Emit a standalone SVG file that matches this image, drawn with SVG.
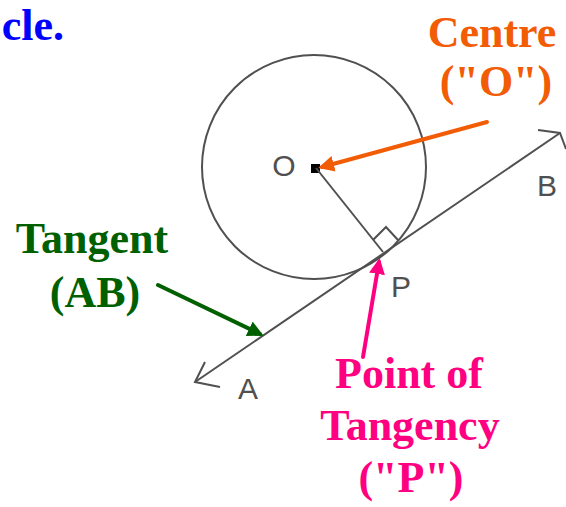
<svg xmlns="http://www.w3.org/2000/svg" width="566" height="507" viewBox="0 0 566 507">
<style>
.lbl{font-family:"Liberation Serif","Times New Roman",serif;font-weight:bold;font-size:44px;text-anchor:middle}
.geo{fill:none;stroke:#505050;stroke-width:2}
.pt{font-family:"Liberation Sans",Arial,sans-serif;font-size:30px;fill:#505050;text-anchor:middle}
</style>
<defs>
<marker id="ao" markerWidth="4" markerHeight="4" refX="3" refY="2" orient="auto" markerUnits="strokeWidth"><path d="M0,0 L4,2 L0,4 Z" fill="#f25c05"/></marker>
<marker id="ag" markerWidth="4" markerHeight="4" refX="3" refY="2" orient="auto" markerUnits="strokeWidth"><path d="M0,0 L4,2 L0,4 Z" fill="#006000"/></marker>
<marker id="ap" markerWidth="4" markerHeight="4" refX="3" refY="2" orient="auto" markerUnits="strokeWidth"><path d="M0,0 L4,2 L0,4 Z" fill="#ff0080"/></marker>
</defs>
<rect width="566" height="507" fill="#fff"/>
<text x="64" y="40" class="lbl" style="text-anchor:end" fill="#0000ff">cle.</text>
<g id="circle">
<circle cx="314" cy="167" r="112" class="geo"/>
<rect x="311" y="164" width="9" height="9" fill="#000"/>
<text x="284" y="176" class="pt">O</text>
</g>
<g id="tangent">
<line x1="195" y1="382" x2="560" y2="133" class="geo"/>
<polyline points="538,130 560,133 566,149" class="geo"/>
<polyline points="205,362 195,382 220,387" class="geo"/>
<text x="547" y="196" class="pt">B</text>
<text x="248" y="399" class="pt">A</text>
</g>
<g id="radius">
<line x1="316" y1="168" x2="383" y2="252" class="geo"/>
<polyline points="373,240 386,227 398,240" class="geo"/>
<text x="401" y="297" class="pt">P</text>
</g>
<g id="label-centre">
<text x="492" y="47" class="lbl" fill="#f25c05">Centre</text>
<text x="496" y="96" class="lbl" fill="#f25c05">("O")</text>
</g>
<g id="label-tangent">
<text x="92" y="253" class="lbl" fill="#006000">Tangent</text>
<text x="95" y="307" class="lbl" fill="#006000">(AB)</text>
</g>
<g id="label-point">
<text x="409" y="388" class="lbl" fill="#ff0080">Point of</text>
<text x="410" y="440" class="lbl" fill="#ff0080">Tangency</text>
<text x="411" y="492" class="lbl" fill="#ff0080">("P")</text>
</g>
<g id="connectors" stroke-width="4" stroke-linecap="round">
<line x1="487" y1="122" x2="322" y2="167" stroke="#f25c05" marker-end="url(#ao)"/>
<line x1="158" y1="285" x2="260" y2="334" stroke="#006000" marker-end="url(#ag)"/>
<line x1="363" y1="357" x2="379" y2="262" stroke="#ff0080" marker-end="url(#ap)"/>
</g>
</svg>
